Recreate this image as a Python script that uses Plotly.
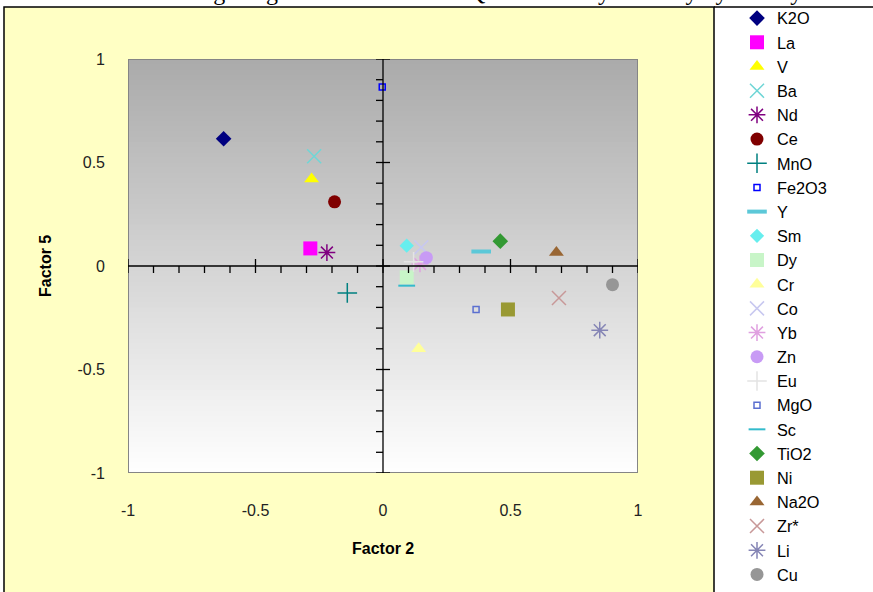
import plotly.graph_objects as go

# ---------------- data ----------------
names = ["K2O", "La", "V", "Ba", "Nd", "Ce", "MnO", "Fe2O3", "Y", "Sm", "Dy", "Cr",
         "Co", "Yb", "Zn", "Eu", "MgO", "Sc", "TiO2", "Ni", "Na2O", "Zr*", "Li", "Cu"]
factor2 = [-0.625, -0.285, -0.28, -0.27, -0.22, -0.19, -0.14, -0.003, 0.385, 0.093, 0.093, 0.14,
           0.15, 0.145, 0.17, 0.12, 0.365, 0.093, 0.46, 0.49, 0.68, 0.69, 0.85, 0.90]
factor5 = [0.615, 0.085, 0.42, 0.53, 0.065, 0.31, -0.13, 0.865, 0.07, 0.098, -0.055, -0.40,
           0.09, 0.01, 0.04, 0.02, -0.21, -0.095, 0.12, -0.21, 0.065, -0.155, -0.31, -0.09]
tick_vals = [-1, -0.5, 0, 0.5, 1]
tick_text = ["-1", "-0.5", "0", "0.5", "1"]
minor_vals = [round(-1 + 0.1 * i, 1) for i in range(21)]

# ---------------- styles ----------------
symbols = ["diamond", "square", "triangle-up", "x-thin-open", "asterisk-open", "circle",
           "cross-thin-open", "square-open", "line-ew-open", "diamond", "square", "triangle-up",
           "x-thin-open", "asterisk-open", "circle", "cross-thin-open", "square-open",
           "line-ew-open", "diamond", "square", "triangle-up", "x-thin-open", "asterisk-open",
           "circle"]
colors = ["#000080", "#FF00FF", "#FFFF00", "#6FD6D6", "#800080", "#800000", "#008080",
          "#0000FF", "#5CC8D8", "#66EEEE", "#C8F5C8", "#FFFF99", "#C8C8F0", "#E0A0E0",
          "#C89BF5", "#E4E4E4", "#5B6FD0", "#33BBCC", "#339933", "#999933", "#996633",
          "#C89898", "#8585B5", "#969696"]
sizes = [12, 14, 13, 14, 14, 13, 14, 6, 14, 11, 14, 13, 14, 14, 13, 14, 6, 12, 12, 14, 13, 14, 14, 13]
line_w = [0, 0, 0, 1.5, 1.5, 0, 1.5, 1.5, 4, 0, 0, 0,
          1.5, 1.5, 0, 1.5, 1.5, 2, 0, 0, 0, 1.5, 1.5, 0]

fig = go.Figure()
for n, xv, yv, s, c, sz, lw in zip(names, factor2, factor5, symbols, colors, sizes, line_w):
    marker = dict(symbol=s, size=sz, color=c, line=dict(color=c, width=lw))
    fig.add_trace(go.Scatter(x=[xv], y=[yv], mode="markers", name=n, marker=marker))

# ---------------- layout geometry (pixels) ----------------
W, H = 873, 592
L, R = 128, 235
PLOT_TOP, PLOT_BOTTOM = 59, 473
pw = W - L - R


def px_x(p):
    return (p - L) / pw


def px_y(p):
    return (H - p) / H


shapes = []
# yellow chart area + borders
shapes.append(dict(type="rect", xref="paper", yref="paper", layer="below",
                   x0=px_x(4), x1=px_x(714), y0=px_y(620), y1=px_y(7),
                   fillcolor="#FFFFC4", line=dict(color="black", width=1.5)))
shapes.append(dict(type="line", xref="paper", yref="paper", layer="below",
                   x0=px_x(714), x1=px_x(890), y0=px_y(7), y1=px_y(7),
                   line=dict(color="black", width=1.5)))

# gradient plot background (each band runs to the bottom, later bands overlay)
nb = 80
top = (170, 170, 170)
bot = (255, 255, 255)
for i in range(nb):
    f = (i + 0.5) / nb
    col = tuple(round(top[k] + (bot[k] - top[k]) * f) for k in range(3))
    shapes.append(dict(type="rect", xref="x", yref="y", layer="below",
                       x0=-1, x1=1, y0=1 - 2 * i / nb, y1=-1,
                       fillcolor="rgb(%d,%d,%d)" % col, line=dict(width=0)))
# plot border
shapes.append(dict(type="rect", xref="x", yref="y", layer="below", x0=-1, x1=1, y0=-1, y1=1,
                   line=dict(color="#858585", width=2), fillcolor="rgba(0,0,0,0)"))

# cross axes through zero with ticks
shapes.append(dict(type="line", xref="x", yref="y", x0=-1, x1=1, y0=0, y1=0,
                   line=dict(color="black", width=1.3)))
shapes.append(dict(type="line", xref="x", yref="y", x0=0, x1=0, y0=-1, y1=1,
                   line=dict(color="black", width=1.3)))
for v in minor_vals:
    major = abs(v * 2 - round(v * 2)) < 1e-9
    a, b = (-7, 7) if major else (-7, 0)
    shapes.append(dict(type="line", xref="x", yref="y", ysizemode="pixel", yanchor=0,
                       x0=v, x1=v, y0=a, y1=b, line=dict(color="black", width=1.3)))
    shapes.append(dict(type="line", xref="x", yref="y", xsizemode="pixel", xanchor=0,
                       y0=v, y1=v, x0=a, x1=b, line=dict(color="black", width=1.3)))

annotations = [
    dict(text="<b>Factor 2</b>", xref="paper", yref="paper", x=0.5, y=px_y(548),
         xanchor="center", yanchor="middle", showarrow=False,
         font=dict(family="Arial, Liberation Sans", size=16, color="black")),
    dict(text="<b>Factor 5</b>", xref="paper", yref="paper", x=px_x(45), y=px_y(266),
         xanchor="center", yanchor="middle", textangle=-90, showarrow=False,
         font=dict(family="Arial, Liberation Sans", size=16, color="black")),
    dict(text="Factor Loading Diagram for Variables \u2013 Q-mode Analysis Study by Variety",
         xref="paper", yref="paper", x=px_x(440), y=px_y(7), xanchor="center",
         yanchor="bottom", showarrow=False,
         font=dict(family="Liberation Serif, Times New Roman", size=24, color="black")),
]

axis_common = dict(range=[-1, 1], showgrid=False, zeroline=False, showline=False,
                   tickvals=tick_vals, ticktext=tick_text, ticks="",
                   tickfont=dict(family="Arial, Liberation Sans", size=16, color="#222222"),
                   fixedrange=True)

fig.update_layout(
    width=W, height=H,
    margin=dict(l=L, r=R, t=0, b=0, pad=0, autoexpand=False),
    paper_bgcolor="white",
    plot_bgcolor="rgba(0,0,0,0)",
    xaxis=dict(**axis_common, ticklabelstandoff=26),
    yaxis=dict(**axis_common, ticklabelstandoff=22,
               domain=[(H - PLOT_BOTTOM) / H, (H - PLOT_TOP) / H]),
    shapes=shapes,
    annotations=annotations,
    showlegend=True,
    legend=dict(x=px_x(737), xanchor="left", y=px_y(1), yanchor="top",
                bgcolor="rgba(0,0,0,0)", borderwidth=0,
                font=dict(family="Arial, Liberation Sans", size=16.3, color="black"),
                tracegroupgap=0, itemclick=False, itemdoubleclick=False),
)

fig.write_html("out.html")
